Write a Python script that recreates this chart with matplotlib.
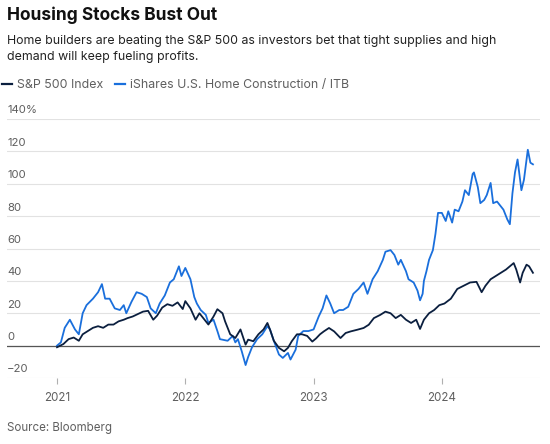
import numpy as np
import matplotlib
matplotlib.use("Agg")
import matplotlib.pyplot as plt
from matplotlib.lines import Line2D

plt.rcParams['font.family'] = ['Inter', 'DejaVu Sans']

# iShares U.S. Home Construction / ITB, % change since start of 2021 (decimal year, value)
itb_t = [2021.00, 2021.03, 2021.06, 2021.10, 2021.14, 2021.17, 2021.20, 2021.23, 2021.28, 2021.32,
         2021.35, 2021.375, 2021.41, 2021.45, 2021.49, 2021.52, 2021.54, 2021.58, 2021.62, 2021.66,
         2021.70, 2021.73, 2021.77, 2021.80, 2021.84, 2021.88, 2021.91, 2021.95, 2021.97, 2022.00,
         2022.04, 2022.07, 2022.09, 2022.12, 2022.16, 2022.18, 2022.22, 2022.25, 2022.27, 2022.33,
         2022.37, 2022.39, 2022.41, 2022.44, 2022.47, 2022.49, 2022.52, 2022.56, 2022.60, 2022.64,
         2022.66, 2022.69, 2022.73, 2022.76, 2022.80, 2022.82, 2022.86, 2022.88, 2022.92, 2022.96,
         2023.00, 2023.04, 2023.07, 2023.10, 2023.13, 2023.16, 2023.20, 2023.23, 2023.27, 2023.31,
         2023.35, 2023.39, 2023.42, 2023.46, 2023.50, 2023.54, 2023.56, 2023.60, 2023.63, 2023.66,
         2023.68, 2023.72, 2023.74, 2023.78, 2023.81, 2023.83, 2023.85, 2023.86, 2023.88, 2023.90,
         2023.93, 2023.95, 2023.97, 2024.00, 2024.03, 2024.05, 2024.08, 2024.10, 2024.13, 2024.16,
         2024.18, 2024.21, 2024.24, 2024.25, 2024.28, 2024.30, 2024.33, 2024.35, 2024.38, 2024.40,
         2024.43, 2024.46, 2024.48, 2024.51, 2024.53, 2024.55, 2024.57, 2024.59, 2024.62, 2024.64,
         2024.67, 2024.69, 2024.71]
itb_v = [0, 2, 11, 16, 10, 7, 20, 25, 29, 33,
         38, 29, 29, 23, 22, 25, 20, 27, 33, 32,
         30, 23, 20, 26, 31, 39, 41, 49, 43, 48,
         41, 30, 26, 22, 19, 14, 16, 9, 4, 3,
         6, 2, 4, -3.5, -12, -7, -1, 4, 7, 12,
         10, 3, -5.5, -7.6, -4.5, -8.6, -2.5, 6, 9, 9,
         10, 18, 23, 31, 26, 20, 22, 22, 24, 32,
         35, 39, 32, 41, 46, 53, 58, 59, 56, 50,
         53, 46, 41, 39, 34, 28, 32, 40, 46, 53,
         59, 69, 82, 82, 77, 83, 76, 84, 83, 89,
         96, 93, 106, 107, 98, 88, 90, 93, 100.5, 88,
         89, 86, 84, 78, 75, 94, 107, 115, 96, 102.5,
         121, 113, 112]

# S&P 500 Index
spx_t = [2021.00, 2021.05, 2021.09, 2021.13, 2021.17, 2021.20, 2021.24, 2021.28, 2021.32, 2021.36,
         2021.40, 2021.44, 2021.48, 2021.52, 2021.55, 2021.59, 2021.63, 2021.67, 2021.71, 2021.75,
         2021.78, 2021.82, 2021.86, 2021.90, 2021.94, 2021.98, 2022.00, 2022.04, 2022.08, 2022.11,
         2022.14, 2022.18, 2022.22, 2022.25, 2022.29, 2022.31, 2022.35, 2022.39, 2022.43, 2022.47,
         2022.49, 2022.53, 2022.57, 2022.61, 2022.64, 2022.66, 2022.69, 2022.73, 2022.77, 2022.80,
         2022.83, 2022.87, 2022.91, 2022.95, 2022.99, 2023.02, 2023.05, 2023.08, 2023.12, 2023.16,
         2023.21, 2023.25, 2023.29, 2023.34, 2023.39, 2023.43, 2023.47, 2023.52, 2023.56, 2023.60,
         2023.64, 2023.68, 2023.72, 2023.76, 2023.80, 2023.83, 2023.86, 2023.90, 2023.94, 2023.98,
         2024.02, 2024.07, 2024.12, 2024.17, 2024.22, 2024.27, 2024.31, 2024.34, 2024.38, 2024.42,
         2024.46, 2024.50, 2024.53, 2024.56, 2024.58, 2024.61, 2024.63, 2024.66, 2024.68, 2024.71]
spx_v = [-1, 1, 4, 5, 3, 7, 9, 11, 12, 11,
         13, 13, 15, 16, 17, 18, 19.5, 21, 21.5, 16,
         18.5, 23.5, 25.6, 24.6, 26.7, 22.6, 27.5, 23, 16, 20,
         17, 13, 18, 22.5, 20, 15, 7, 4.7, 10, 0.6,
         3.7, 2.7, 7, 10, 14, 10, 3, -1.4, -3.5, -1.4,
         2.7, 7, 7, 6, 2.5, 4.5, 7, 8.8, 10.9, 8.8,
         4.7, 7.8, 8.8, 9.8, 10.9, 12.9, 17, 19, 21, 20,
         17, 19, 16, 14, 16, 10.3, 16, 20, 22, 25,
         26, 29, 35, 37, 39, 39.4, 33, 37, 41, 43,
         45, 47, 49, 51, 47, 39, 45, 50, 49, 45]

year_ticks = [2021, 2022, 2023, 2024]
y_ticks = [-20, 0, 20, 40, 60, 80, 100, 120, 140]
y_labels = ['\u221220', '0', '20', '40', '60', '80', '100', '120', '140%']

navy = '#0b1f3f'
blue = '#1a6fdc'
grey_txt = '#5f5f5f'

fig = plt.figure(figsize=(5.5, 4.44), dpi=100)
ax = fig.add_axes([7 / 550, 1 - 378 / 444, 533 / 550, (378 - 119) / 444])

ax.plot(itb_t, itb_v, color=blue, lw=1.3, zorder=3)
ax.plot(spx_t, spx_v, color=navy, lw=1.3, zorder=4)

ax.set_xlim(2020.61, 2024.765)
ax.set_ylim(-20, 140)
ax.set_yticks(y_ticks)
ax.set_yticklabels([])
ax.tick_params(axis='y', length=0)
ax.grid(axis='y', color='#e2e2e2', lw=0.8)
ax.axhline(0, color='#555555', lw=0.9, zorder=2)

ax.set_xticks(year_ticks)
ax.set_xticklabels([str(y) for y in year_ticks], fontsize=8.3, color=grey_txt)
ax.tick_params(axis='x', length=4, color='#b0b0b0', width=0.8, pad=6)

for s in ax.spines.values():
    s.set_visible(False)

# y labels sit above gridlines, at the left edge
for v, lab in zip(y_ticks, y_labels):
    ax.text(0, v + 2.2, lab, transform=ax.get_yaxis_transform(),
            fontsize=8.2, color=grey_txt, ha='left', va='bottom')

fig.text(7 / 550, 1 - 15 / 444, 'Housing Stocks Bust Out', fontsize=12.5,
         fontweight='bold', color='#111111', va='center', ha='left')
fig.text(7 / 550, 1 - 49 / 444,
         'Home builders are beating the S&P 500 as investors bet that tight supplies and high\n'
         'demand will keep fueling profits.',
         fontsize=8.9, color='#222222', va='center', ha='left', linespacing=1.5)

handles = [Line2D([], [], color=navy, lw=1.6), Line2D([], [], color=blue, lw=1.6)]
leg = fig.legend(handles, ['S&P 500 Index', 'iShares U.S. Home Construction / ITB'],
                 loc='center left', bbox_to_anchor=(0.0, 1 - 85 / 444), ncol=2,
                 frameon=False, fontsize=8.9, handlelength=0.8, handletextpad=0.4,
                 columnspacing=0.9, borderaxespad=0, borderpad=0.2)
for t in leg.get_texts():
    t.set_color(grey_txt)

fig.text(7 / 550, 1 - 428 / 444, 'Source: Bloomberg', fontsize=8.3, color=grey_txt,
         va='center', ha='left')

fig.savefig('out.png', dpi=100)
